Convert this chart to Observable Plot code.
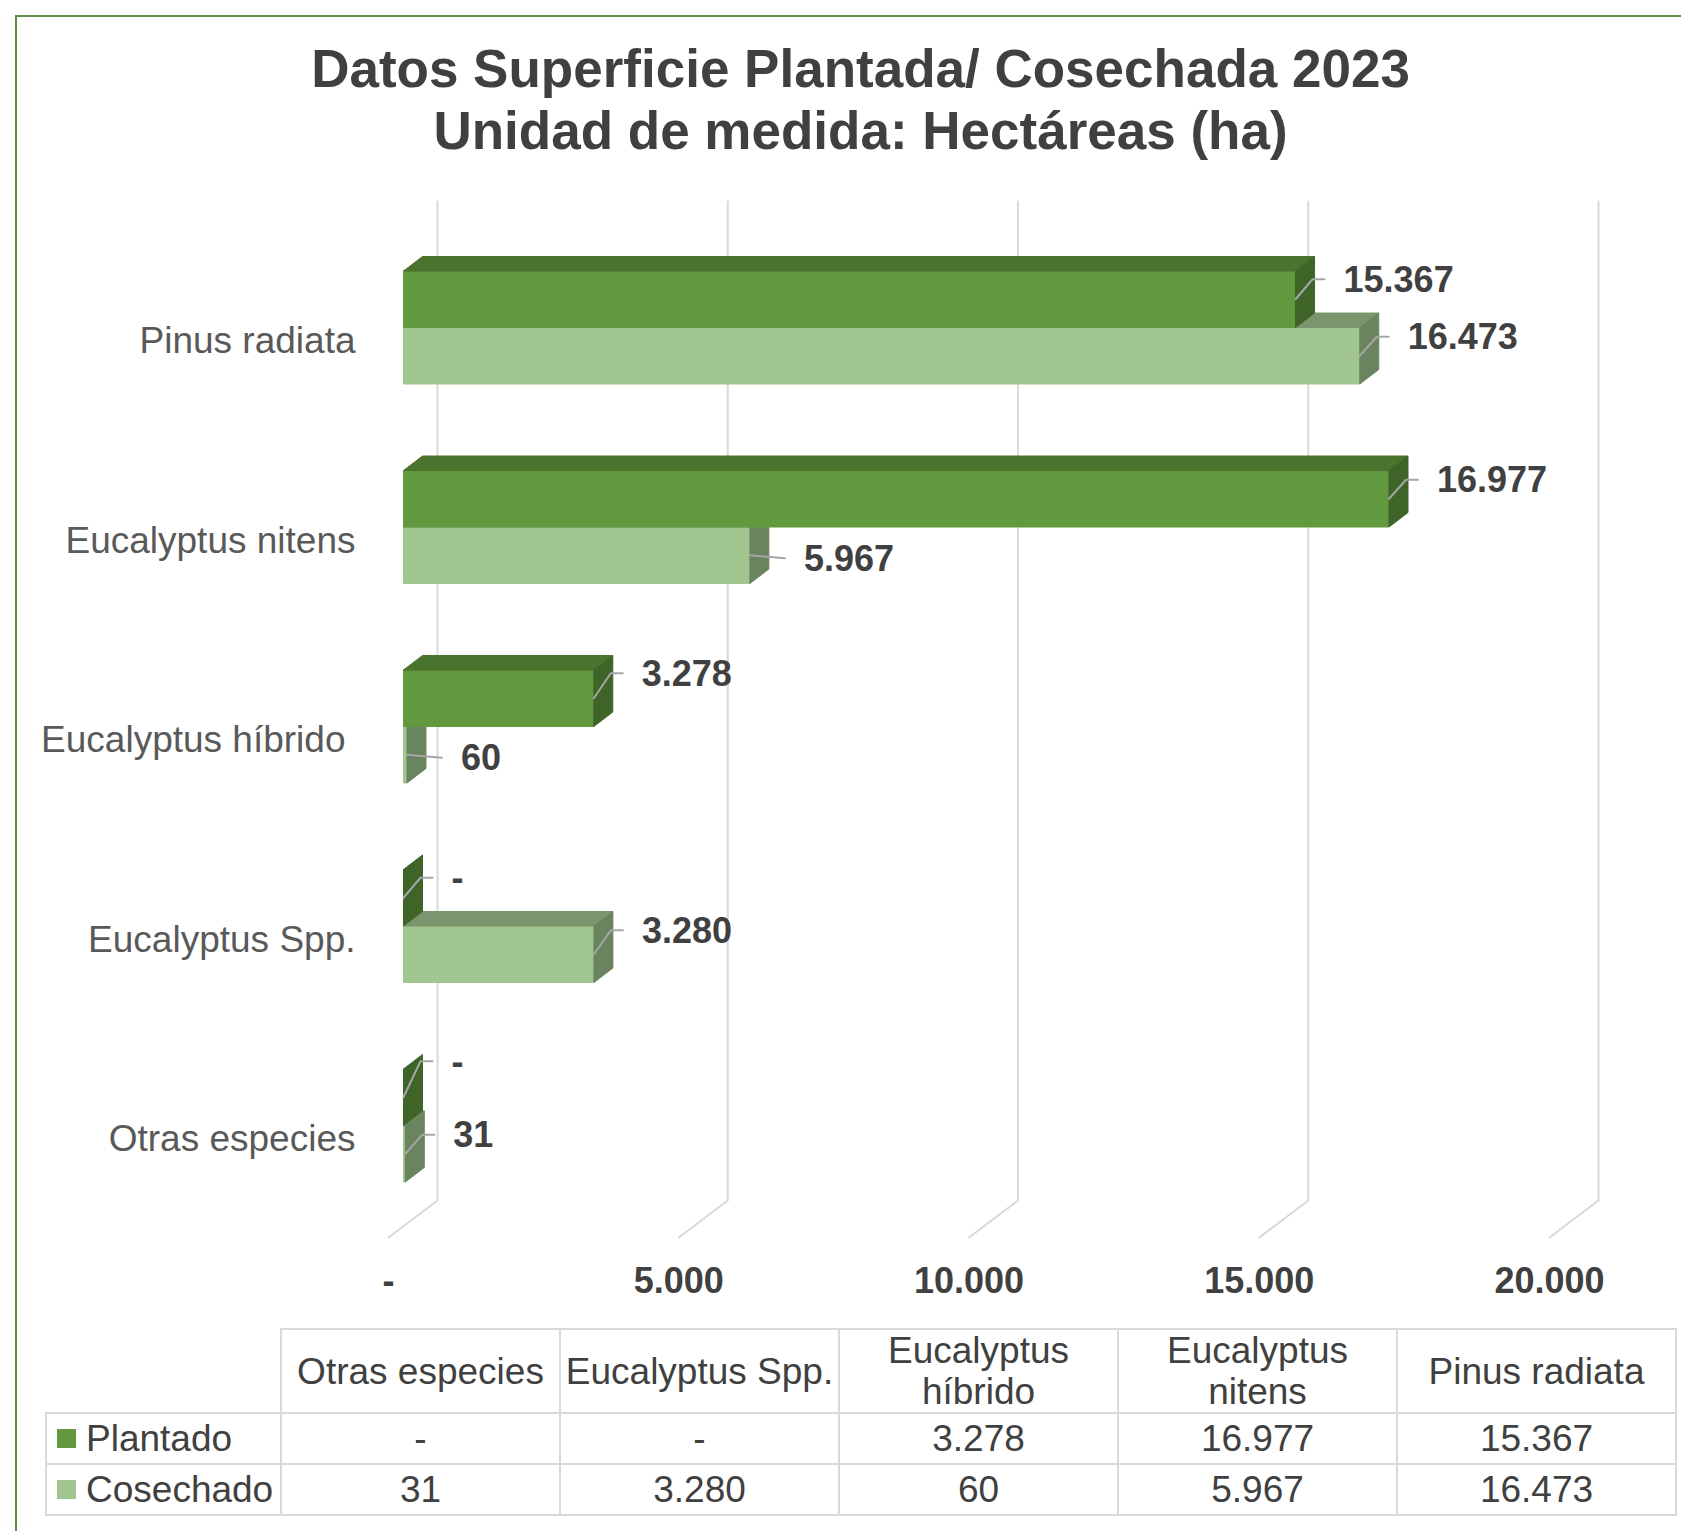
<!DOCTYPE html>
<html>
<head>
<meta charset="utf-8">
<script src="https://cdn.jsdelivr.net/npm/d3@7"></script>
<script src="https://cdn.jsdelivr.net/npm/@observablehq/plot@0.6"></script>
<style>
  body { margin: 0; background: #fff; font-family: "Liberation Sans", Arial, sans-serif; }
  #wrap { position: relative; width: 1681px; height: 1531px; overflow: hidden; background: #fff; }
  #chart { position: absolute; left: 0; top: 0; }
  #frame { position: absolute; left: 15px; top: 15px; width: 1800px; height: 1700px;
           border-left: 2px solid #5F8B4C; border-top: 2px solid #5F8B4C; pointer-events: none; }
  #tbl { position: absolute; left: 45px; top: 1328px; }
  table { border-collapse: collapse; table-layout: fixed; font-size: 37px; color: #404040;
          font-family: "Liberation Sans", Arial, sans-serif; }
  th, td { border: 2px solid #D9D9D9; text-align: center; padding: 0; font-weight: normal; }
  th { line-height: 41px; }
  th.corner { border: none; }
  td.leg { text-align: left; padding-left: 10px; }
  td.leg div { display: flex; align-items: center; }
  td.leg span.key { display: inline-block; width: 19px; height: 19px; margin-right: 10px; }
</style>
</head>
<body>
<div id="wrap">
  <div id="chart"></div>
  <div id="tbl"></div>
  <div id="frame"></div>
</div>
<script>
// ---------------- data ----------------
const categories = ["Otras especies", "Eucalyptus Spp.", "Eucalyptus híbrido", "Eucalyptus nitens", "Pinus radiata"];
const plantado = [0, 0, 3278, 16977, 15367];
const cosechado = [31, 3280, 60, 5967, 16473];
const seriesNames = ["Plantado", "Cosechado"];
const xTicks = [0, 5000, 10000, 15000, 20000];
const titleLines = ["Datos Superficie Plantada/ Cosechada 2023", "Unidad de medida: Hectáreas (ha)"];

// ---------------- layout / style ----------------
const liftPlantado = [-36, -20, -25, -19, -20];   // leader rise (px) per category
const liftCosechado = [-19, -24, 3, 3, -19];
const catLabelPad = [48, 48, 58, 48, 48];         // label gap to axis (px) per category
const PL = {front: "#62993E", top: "#4A732E", side: "#3F6428", key: "#62993E"};
const CO = {front: "#A2C68F", top: "#7B956E", side: "#6A845F", key: "#A2C68F"};
const W = 1681, H = 1320;
const X_DOMAIN = [0, 20000], X_RANGE = [403, 1564];
const Y_DOMAIN = [0, 4], Y_RANGE = [327, 1125];
const kx = (X_RANGE[1] - X_RANGE[0]) / (X_DOMAIN[1] - X_DOMAIN[0]);
const ky = (Y_RANGE[1] - Y_RANGE[0]) / (Y_DOMAIN[1] - Y_DOMAIN[0]);
const dxu = p => p / kx;                       // pixel offset -> x units
const dyu = p => p / ky;                       // pixel offset -> y units
const pyu = p => (p - Y_RANGE[0]) / ky + Y_DOMAIN[0]; // absolute pixel -> y units
const BAR = dyu(56.5);
const DX = dxu(19), DY = dyu(-14.5);
const slot = j => categories.length - 1 - j;
const FONT = "Liberation Sans, Arial, sans-serif";

const locale = d3.formatLocale({decimal: ",", thousands: ".", grouping: [3], currency: ["", ""]});
const fmtInt = locale.format(",d");
const fmt = v => v === 0 ? "-" : fmtInt(v);

// ---------------- build geometry ----------------
const series = [
  {name: seriesNames[1], values: cosechado, col: CO, off: 0, lift: liftCosechado},
  {name: seriesNames[0], values: plantado, col: PL, off: -BAR, lift: liftPlantado}
];
const faces = [];
const leaders = [];
const labels = [];
let fid = 0;
for (const s of series) {
  s.values.forEach((v, j) => {
    const y0 = slot(j) + s.off, y1 = y0 + BAR;
    const poly = (pts, c) => { const id = fid++; pts.forEach(([x, y]) => faces.push({id, x, y, c})); };
    if (v > 0) {
      poly([[0, y0], [v, y0], [v, y1], [0, y1], [0, y0]], s.col.front);
      poly([[0, y0], [DX, y0 + DY], [v + DX, y0 + DY], [v, y0], [0, y0]], s.col.top);
    }
    poly([[v, y0], [v + DX, y0 + DY], [v + DX, y1 + DY], [v, y1], [v, y0]], s.col.side);
    const c = y0 + BAR / 2, L = s.lift[j];
    const lid = s.name + j;
    let pts;
    if (Math.abs(L) > 6) pts = [[v, c], [v + dxu(17), c + dyu(L)], [v + dxu(29), c + dyu(L)]];
    else pts = [[v, c], [v + dxu(35), c + dyu(L)]];
    pts.forEach(([x, y]) => leaders.push({id: lid, x, y}));
    const end = pts[pts.length - 1];
    labels.push({x: end[0], y: c + dyu(L + 1), t: fmt(v)});
  });
}
const grid = [];
for (const t of xTicks) {
  grid.push({t, x: t + dxu(34), y: pyu(201)});
  grid.push({t, x: t + dxu(34), y: pyu(1200)});
  grid.push({t, x: t + dxu(-15), y: pyu(1237)});
}
const catRows = categories.map((name, j) => ({name, x: dxu(-catLabelPad[j]), y: slot(j) + dyu(14)}));

const chart = Plot.plot({
  width: W, height: H,
  marginTop: 0, marginRight: 0, marginBottom: 0, marginLeft: 0,
  style: {fontFamily: FONT, background: "transparent"},
  x: {domain: X_DOMAIN, range: X_RANGE, axis: null},
  y: {domain: Y_DOMAIN, range: Y_RANGE, axis: null},
  color: {type: "identity"},
  marks: [
    Plot.line(grid, {x: "x", y: "y", z: "t", stroke: "#D9D9D9", strokeWidth: 2, strokeLinejoin: "miter"}),
    Plot.line(faces, {x: "x", y: "y", z: "id", fill: d => d.c, stroke: d => d.c, strokeWidth: 1, strokeLinejoin: "miter"}),
    Plot.line(leaders, {x: "x", y: "y", z: "id", stroke: "#A6A6A6", strokeWidth: 2, strokeLinejoin: "miter"}),
    Plot.text(labels, {x: "x", y: "y", text: "t", dx: 19, textAnchor: "start", fontSize: 36, fontWeight: "bold", fill: "#404040"}),
    Plot.text(catRows, {x: "x", y: "y", text: "name", textAnchor: "end", fontSize: 37, fill: "#595959"}),
    Plot.text(xTicks, {x: d => d, y: pyu(1281), text: d => fmt(d), dx: -15, fontSize: 36, fontWeight: "bold", fill: "#404040"}),
    Plot.text([titleLines[0]], {frameAnchor: "top", text: d => d, dx: 860 - W / 2, dy: 86, lineAnchor: "bottom", fontSize: 53, fontWeight: "bold", fill: "#404040"}),
    Plot.text([titleLines[1]], {frameAnchor: "top", text: d => d, dx: 860 - W / 2, dy: 148, lineAnchor: "bottom", fontSize: 53, fontWeight: "bold", fill: "#404040"})
  ]
});
document.getElementById("chart").appendChild(chart);

// ---------------- data table ----------------
const colOrder = categories.map((c, j) => j);
const table = document.createElement("table");
const cg = document.createElement("colgroup");
[235, 279, 279, 279, 279, 279].forEach(w => { const c = document.createElement("col"); c.style.width = w + "px"; cg.appendChild(c); });
table.appendChild(cg);
const hr = document.createElement("tr");
hr.style.height = "83px";
const corner = document.createElement("th"); corner.className = "corner"; hr.appendChild(corner);
colOrder.forEach(j => { const th = document.createElement("th"); th.textContent = categories[j]; hr.appendChild(th); });
table.appendChild(hr);
[[seriesNames[0], plantado, PL.key, 51], [seriesNames[1], cosechado, CO.key, 51]].forEach(([name, vals, key, h]) => {
  const tr = document.createElement("tr");
  tr.style.height = h + "px";
  const td = document.createElement("td"); td.className = "leg";
  const dv = document.createElement("div");
  const sp = document.createElement("span"); sp.className = "key"; sp.style.background = key;
  dv.appendChild(sp); dv.appendChild(document.createTextNode(name)); td.appendChild(dv); tr.appendChild(td);
  colOrder.forEach(j => { const c = document.createElement("td"); c.textContent = fmt(vals[j]); tr.appendChild(c); });
  table.appendChild(tr);
});
document.getElementById("tbl").appendChild(table);
</script>
</body>
</html>
